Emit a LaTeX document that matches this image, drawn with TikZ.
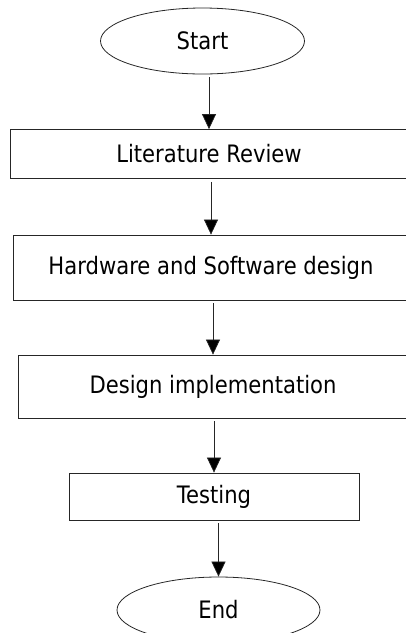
\documentclass[tikz,border=0pt]{standalone}
\usepackage{fontspec}
\setmainfont{DejaVu Sans}[FakeStretch=0.88]
\usetikzlibrary{shapes.geometric,arrows.meta}

\begin{document}
\begin{tikzpicture}[x=1pt,y=-1pt,
    terminal/.style={draw=black!85,line width=0.8pt,ellipse,inner sep=0pt,minimum width=204pt,minimum height=66pt,font=\fontsize{24}{28}\selectfont},
    stepbox/.style={draw=black!85,line width=0.8pt,rectangle,inner sep=0pt,font=\fontsize{24}{28}\selectfont},
    flow/.style={draw=black!85,line width=0.7pt,-{Triangle[width=14pt,length=15pt,fill=black]},shorten <=3pt}
]
\useasboundingbox (0,0) rectangle (406,633);

\node[terminal] (start) at (202.5,41) {Start};
\node[stepbox,minimum width=398pt,minimum height=49pt] (litrev) at (209,154) {Literature Review};
\node[stepbox,minimum width=396pt,minimum height=65pt] (hwsw) at (211,267.5) {Hardware and Software design};
\node[stepbox,minimum width=390pt,minimum height=63pt] (implem) at (213,386.5) {Design implementation};
\node[stepbox,minimum width=290pt,minimum height=47pt] (testing) at (214,496.5) {Testing};
\node[terminal,minimum width=203pt] (stop) at (218.5,610) {End};

\draw[flow] (litrev.north |- start.south) -- (litrev.north);
\draw[flow] (hwsw.north |- litrev.south) -- (hwsw.north);
\draw[flow] (implem.north |- hwsw.south) -- (implem.north);
\draw[flow] (testing.north |- implem.south) -- (testing.north);
\draw[flow] (stop.north |- testing.south) -- (stop.north);
\end{tikzpicture}
\end{document}
